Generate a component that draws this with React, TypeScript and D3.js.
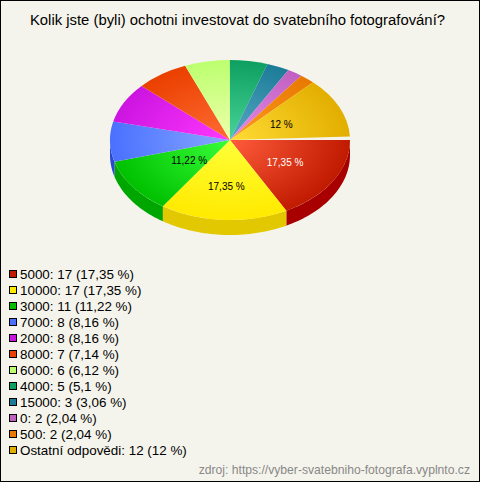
import React from "react";
import * as d3 from "d3";

const categories = ["5000", "10000", "3000", "7000", "2000", "8000", "6000", "4000", "15000", "0", "500", "Ostatní odpovědi"];
const counts = [17, 17, 11, 8, 8, 7, 6, 5, 3, 2, 2, 12];
const percents = ["17,35", "17,35", "11,22", "8,16", "8,16", "7,14", "6,12", "5,1", "3,06", "2,04", "2,04", "12"];
const innerColors = ["#ff5c3c", "#ffff38", "#38ff38", "#86a8ff", "#ff38ff", "#ff6c34", "#eeffaa", "#48d498", "#58a8c4", "#e888e8", "#ff9a20", "#ffdc34"];
const outerColors = ["#c01a00", "#ffea00", "#00c000", "#4a70ff", "#cc14e0", "#ea4000", "#bcff70", "#0ea060", "#1c7c98", "#c060c0", "#e87800", "#e2ae00"];
const sideColors = ["#a80000", "#e2c800", "#00a600", "#2a48d0", "#a000b0", "#c03000", "#a0e060", "#008848", "#106880", "#a04aa0", "#c06000", "#c09000"];
const labelled = [0, 1, 2, 11];
const labelRadius = [0.535, 0.575, 0.42, 0.47];
const labelColors = ["#ffffff", "#000000", "#000000", "#000000"];

const W = 480, H = 482;
const CX = 230, CY = 140, RX = 120, RY = 80, DEPTH = 15;
const SWEEP_DEG = 357.5;
const BG = "#f5f4ec";
const ROW0 = 274, ROW_H = 16;

export default function App() {
  const start = Math.PI / 2;
  const pie = d3.pie<number>().sort(null).startAngle(start).endAngle(start + (SWEEP_DEG * Math.PI) / 180);
  const arcs = pie(counts);
  const arc = d3.arc<d3.PieArcDatum<number>>().innerRadius(0).outerRadius(RX);
  const yScale = RY / RX;

  const px = (a: number) => CX + RX * Math.sin(a);
  const py = (a: number) => CY - RY * Math.cos(a);

  const sidePath = (s: d3.PieArcDatum<number>) => {
    // visible front half of the rim: d3 angles from 90deg to 270deg
    const a0 = Math.max(s.startAngle, Math.PI / 2);
    const a1 = Math.min(s.endAngle, (3 * Math.PI) / 2);
    if (a1 <= a0) return null;
    const pts = d3.range(0, 41).map(i => a0 + ((a1 - a0) * i) / 40);
    const ring: [number, number][] = [
      ...pts.map(a => [px(a), py(a)] as [number, number]),
      ...pts.slice().reverse().map(a => [px(a), py(a) + DEPTH] as [number, number]),
    ];
    return d3.line()(ring) + "Z";
  };

  return (
    <svg width={W} height={H} style={{ position: "absolute", left: 0, top: 0 }} fontFamily="'Liberation Sans', Arial, sans-serif">
      <defs>
        {categories.map((_, i) => (
          <radialGradient key={i} id={`g${i}`} gradientUnits="userSpaceOnUse" cx={0} cy={0} r={RX}>
            <stop offset="0%" stopColor={innerColors[i]} />
            <stop offset="100%" stopColor={outerColors[i]} />
          </radialGradient>
        ))}
      </defs>
      <rect x={0.5} y={0.5} width={W - 1} height={H - 1} fill={BG} stroke="#000" />
      <text x={237.5} y={25} textAnchor="middle" fontSize={14.85} fill="#000">Kolik jste (byli) ochotni investovat do svatebního fotografování?</text>

      {arcs.map((s, i) => {
        const d = sidePath(s);
        return d ? <path key={i} d={d} fill={sideColors[i]} /> : null;
      })}

      <g transform={`translate(${CX},${CY}) scale(1,${yScale})`}>
        {arcs.map((s, i) => (
          <path key={i} d={arc(s)!} fill={`url(#g${i})`} />
        ))}
      </g>

      {labelled.map((idx, k) => {
        const s = arcs[idx];
        const mid = (s.startAngle + s.endAngle) / 2;
        return (
          <text key={idx} x={CX + RX * labelRadius[k] * Math.sin(mid)} y={CY - RY * labelRadius[k] * Math.cos(mid) + 4}
            textAnchor="middle" fontSize={10} fill={labelColors[k]}>
            {percents[idx]} %
          </text>
        );
      })}

      {categories.map((c, i) => (
        <g key={c}>
          <rect x={9.5} y={ROW0 + ROW_H * i - 3.5} width={7} height={7} fill={outerColors[i]} stroke="#000" />
          <text x={20} y={ROW0 + ROW_H * i + 4.5} fontSize={13.4} fill="#000">
            {c}: {counts[i]} ({percents[i]} %)
          </text>
        </g>
      ))}

      <text x={470} y={474} textAnchor="end" fontSize={12.15} fill="#888">zdroj: https://vyber-svatebniho-fotografa.vyplnto.cz</text>
    </svg>
  );
}
